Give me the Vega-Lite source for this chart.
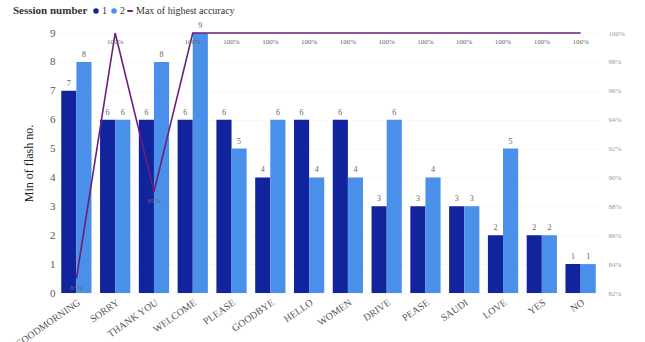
{
  "$schema": "https://vega.github.io/schema/vega-lite/v6.json",
  "width": 543,
  "height": 260,
  "autosize": {"type": "none"},
  "padding": {"left": 57, "top": 33, "right": 44, "bottom": 49},
  "background": "white",
  "config": {
    "font": "Liberation Serif",
    "view": {"stroke": null},
    "axis": {"labelFont": "Liberation Serif", "titleFont": "Liberation Serif", "domain": false, "ticks": false},
    "axisY": {"labelOverlap": false, "labelSeparation": -30, "labelBound": false},
    "legend": {"labelFont": "Liberation Serif", "titleFont": "Liberation Serif"}
  },
  "datasets": {
    "bars": [
      {"word": "GOODMORNING", "session": "1", "flash": 7},
      {"word": "GOODMORNING", "session": "2", "flash": 8},
      {"word": "SORRY", "session": "1", "flash": 6},
      {"word": "SORRY", "session": "2", "flash": 6},
      {"word": "THANK YOU", "session": "1", "flash": 6},
      {"word": "THANK YOU", "session": "2", "flash": 8},
      {"word": "WELCOME", "session": "1", "flash": 6},
      {"word": "WELCOME", "session": "2", "flash": 9},
      {"word": "PLEASE", "session": "1", "flash": 6},
      {"word": "PLEASE", "session": "2", "flash": 5},
      {"word": "GOODBYE", "session": "1", "flash": 4},
      {"word": "GOODBYE", "session": "2", "flash": 6},
      {"word": "HELLO", "session": "1", "flash": 6},
      {"word": "HELLO", "session": "2", "flash": 4},
      {"word": "WOMEN", "session": "1", "flash": 6},
      {"word": "WOMEN", "session": "2", "flash": 4},
      {"word": "DRIVE", "session": "1", "flash": 3},
      {"word": "DRIVE", "session": "2", "flash": 6},
      {"word": "PEASE", "session": "1", "flash": 3},
      {"word": "PEASE", "session": "2", "flash": 4},
      {"word": "SAUDI", "session": "1", "flash": 3},
      {"word": "SAUDI", "session": "2", "flash": 3},
      {"word": "LOVE", "session": "1", "flash": 2},
      {"word": "LOVE", "session": "2", "flash": 5},
      {"word": "YES", "session": "1", "flash": 2},
      {"word": "YES", "session": "2", "flash": 2},
      {"word": "NO", "session": "1", "flash": 1},
      {"word": "NO", "session": "2", "flash": 1}
    ],
    "acc": [
      {"word": "GOODMORNING", "acc": 0.83},
      {"word": "SORRY", "acc": 1.0},
      {"word": "THANK YOU", "acc": 0.89},
      {"word": "WELCOME", "acc": 1.0},
      {"word": "PLEASE", "acc": 1.0},
      {"word": "GOODBYE", "acc": 1.0},
      {"word": "HELLO", "acc": 1.0},
      {"word": "WOMEN", "acc": 1.0},
      {"word": "DRIVE", "acc": 1.0},
      {"word": "PEASE", "acc": 1.0},
      {"word": "SAUDI", "acc": 1.0},
      {"word": "LOVE", "acc": 1.0},
      {"word": "YES", "acc": 1.0},
      {"word": "NO", "acc": 1.0}
    ]
  },
  "encoding": {
    "x": {
      "field": "word", "type": "nominal", "sort": null,
      "scale": {"paddingInner": 0.22, "paddingOuter": 0.11},
      "axis": {"title": null, "labelAngle": -35, "labelAlign": "right", "labelBaseline": "top", "labelFontSize": 10, "labelColor": "#555", "labelPadding": 4}
    }
  },
  "layer": [
    {
      "data": {"name": "bars"},
      "encoding": {
        "xOffset": {"field": "session", "type": "nominal"},
        "y": {"field": "flash", "type": "quantitative", "scale": {"domain": [0, 9]},
          "axis": {"title": "Min of flash no.", "titleFontSize": 12, "titleFontWeight": "normal", "titleColor": "#222", "titlePadding": 14,
            "labelFontSize": 11, "labelColor": "#555", "values": [0,1,2,3,4,5,6,7,8,9], "labelOverlap": false,
            "gridColor": "#e6e6e6", "gridDash": [1, 3]}}
      },
      "layer": [
        {
          "mark": {"type": "bar"},
          "encoding": {
            "color": {"field": "session", "type": "nominal",
              "scale": {"domain": ["1", "2"], "range": ["#12239E", "#4A8FEA"]},
              "legend": {"title": "Session number", "orient": "none", "legendX": -44, "legendY": -27, "direction": "horizontal", "titleOrient": "left",
                "titleFontSize": 11, "titleFontWeight": "bold", "titleColor": "#333", "labelFontSize": 10, "labelColor": "#333",
                "symbolType": "circle", "symbolSize": 30, "columnPadding": 2, "labelOffset": 1, "titlePadding": 3}}
          }
        },
        {
          "mark": {"type": "text", "dy": -7, "fontSize": 8, "color": "#666"},
          "encoding": {
            "text": {"field": "flash"}
          }
        }
      ]
    },
    {
      "data": {"name": "acc"},
      "encoding": {
        "y": {"field": "acc", "type": "quantitative", "scale": {"domain": [0.82, 1.0]},
          "axis": {"orient": "right", "title": null, "format": ".0%", "values": [0.82,0.84,0.86,0.88,0.9,0.92,0.94,0.96,0.98,1.0], "labelOverlap": false,
            "labelFontSize": 7, "labelColor": "#999", "grid": false, "labelPadding": 8}}
      },
      "layer": [
        {
          "mark": {"type": "line", "strokeWidth": 1.6},
          "encoding": {
            "stroke": {"datum": "Max of highest accuracy", "type": "nominal",
              "scale": {"range": ["#6B1F7B"]},
              "legend": {"title": null, "orient": "none", "legendX": 68, "legendY": -27, "symbolType": "stroke", "symbolSize": 30, "symbolStrokeWidth": 2,
                "labelFontSize": 10, "labelColor": "#333", "labelOffset": 1}}
          }
        },
        {
          "mark": {"type": "text", "baseline": "top", "dy": 5, "fontSize": 7, "color": "#666"},
          "encoding": {
            "text": {"field": "acc", "format": ".0%"}
          }
        }
      ]
    }
  ],
  "resolve": {"scale": {"y": "independent", "color": "independent"}}
}
